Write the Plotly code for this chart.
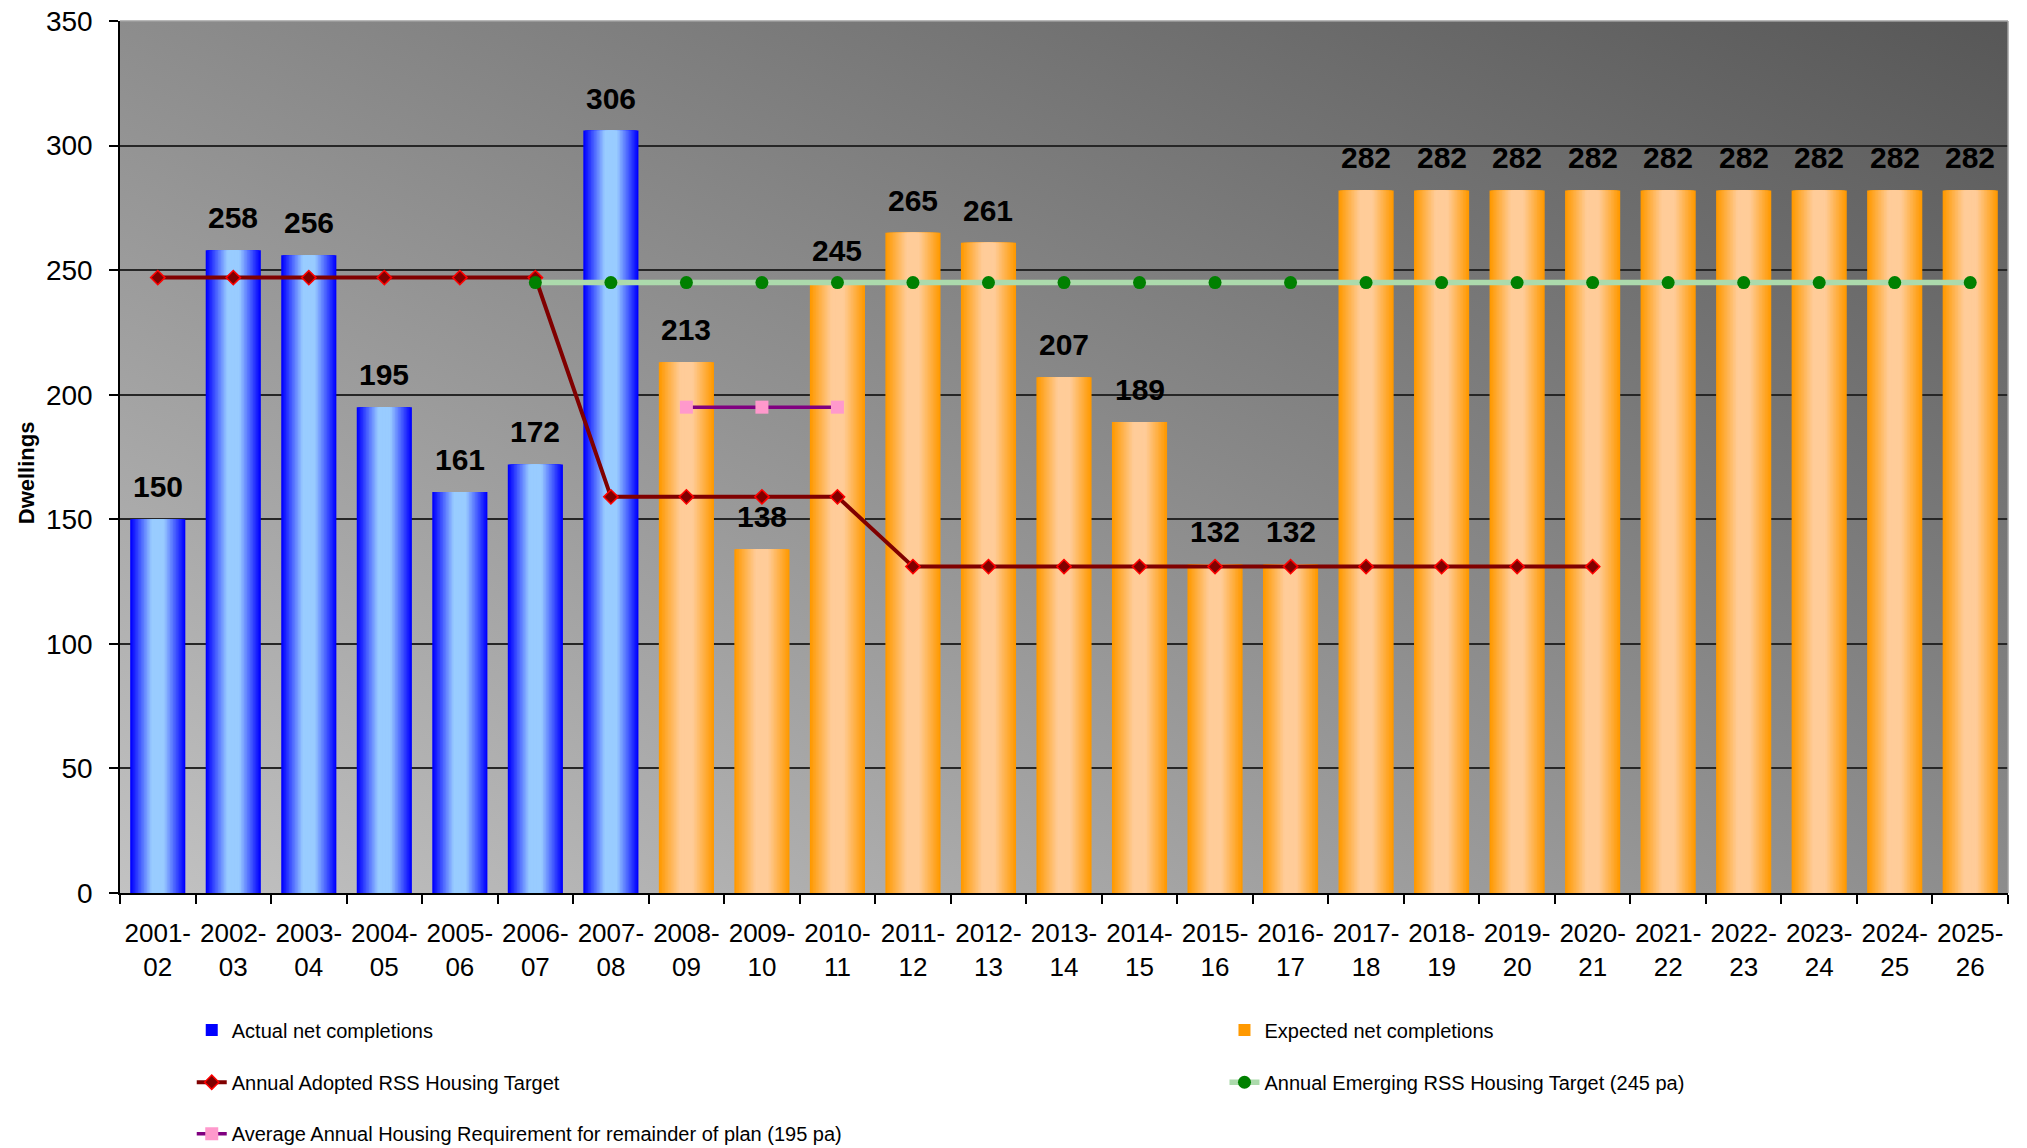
import base64
import plotly.graph_objects as go

# ---------------- data ----------------
categories = ["2001-02", "2002-03", "2003-04", "2004-05", "2005-06", "2006-07", "2007-08",
              "2008-09", "2009-10", "2010-11", "2011-12", "2012-13", "2013-14", "2014-15",
              "2015-16", "2016-17", "2017-18", "2018-19", "2019-20", "2020-21", "2021-22",
              "2022-23", "2023-24", "2024-25", "2025-26"]
tick_labels = ["2001-<br>02", "2002-<br>03", "2003-<br>04", "2004-<br>05", "2005-<br>06",
               "2006-<br>07", "2007-<br>08", "2008-<br>09", "2009-<br>10", "2010-<br>11",
               "2011-<br>12", "2012-<br>13", "2013-<br>14", "2014-<br>15", "2015-<br>16",
               "2016-<br>17", "2017-<br>18", "2018-<br>19", "2019-<br>20", "2020-<br>21",
               "2021-<br>22", "2022-<br>23", "2023-<br>24", "2024-<br>25", "2025-<br>26"]
actual = [150, 258, 256, 195, 161, 172, 306, None, None, None, None, None, None, None,
          None, None, None, None, None, None, None, None, None, None, None]
expected = [None, None, None, None, None, None, None, 213, 138, 245, 265, 261, 207, 189,
            132, 132, 282, 282, 282, 282, 282, 282, 282, 282, 282]
adopted_target = [247, 247, 247, 247, 247, 247, 159, 159, 159, 159, 131, 131, 131, 131,
                  131, 131, 131, 131, 131, 131, None, None, None, None, None]
emerging_target = [None, None, None, None, None, 245, 245, 245, 245, 245, 245, 245, 245, 245,
                   245, 245, 245, 245, 245, 245, 245, 245, 245, 245, 245]
remainder_req = [None, None, None, None, None, None, None, 195, 195, 195, None, None, None,
                 None, None, None, None, None, None, None, None, None, None, None, None]

FONT = "Liberation Sans, Arial, sans-serif"

fig = go.Figure()

# ---------------- gradient bars (nested overlay layers) ----------------
BAR_W = 0.73
N_LAYERS = 18


def mix(c1, c2, f):
    return "rgb(%d,%d,%d)" % tuple(round(a + (b - a) * f) for a, b in zip(c1, c2))


def add_gradient_bars(values, edge, light, name, legend):
    for k in range(N_LAYERS):
        frac = 1 - k / N_LAYERS
        f = max(0.0, min(1.0, (frac - 0.25) / 0.75))
        fig.add_trace(go.Bar(
            x=categories, y=values, width=BAR_W * frac,
            marker=dict(color=mix(light, edge, f), line=dict(width=0)),
            name=name, showlegend=(k == 0), legend=legend,
            hoverinfo="skip" if k else None,
        ))


add_gradient_bars(actual, (0, 0, 255), (153, 204, 255), "Actual net completions", "legend")
add_gradient_bars(expected, (255, 153, 0), (255, 204, 153), "Expected net completions", "legend2")

# ---------------- lines ----------------
fig.add_trace(go.Scatter(
    x=categories, y=adopted_target, mode="lines+markers",
    name="Annual Adopted RSS Housing Target", legend="legend3",
    line=dict(color="#800000", width=4),
    marker=dict(symbol="diamond", size=11, color="#800000", line=dict(color="#FF0000", width=1.5)),
))
fig.add_trace(go.Scatter(
    x=categories, y=emerging_target, mode="lines+markers",
    name="Annual Emerging RSS Housing Target (245 pa)", legend="legend4",
    line=dict(color="rgb(172,218,172)", width=5.5),
    marker=dict(symbol="circle", size=13, color="#008000", line=dict(width=0)),
))
fig.add_trace(go.Scatter(
    x=categories, y=remainder_req, mode="lines+markers",
    name="Average Annual Housing Requirement for remainder of plan (195 pa)", legend="legend5",
    line=dict(color="#800080", width=3.5),
    marker=dict(symbol="square", size=13, color="#FF99CC", line=dict(width=0)),
))

# ---------------- value labels ----------------
annotations = []
for cat, a, e in zip(categories, actual, expected):
    v = a if a is not None else e
    annotations.append(dict(
        x=cat, y=v, xref="x", yref="y", text="<b>%d</b>" % v, showarrow=False,
        yanchor="bottom", yshift=14, font=dict(family=FONT, size=30, color="black"),
    ))

# y-axis title (placed slightly below the axis centre, as in the original)
annotations.append(dict(
    text="<b>Dwellings</b>", textangle=-90, showarrow=False,
    xref="paper", yref="paper", x=-0.0495, y=0.482, xanchor="center", yanchor="middle",
    font=dict(family=FONT, size=22, color="black"),
))

# ---------------- background gradient ----------------
svg = ('<svg xmlns="http://www.w3.org/2000/svg" width="100" height="100" viewBox="0 0 100 100" '
       'preserveAspectRatio="none"><defs><linearGradient id="g" x1="0" y1="1" x2="1" y2="0">'
       '<stop offset="0" stop-color="#C2C2C2"/><stop offset="1" stop-color="#575757"/>'
       '</linearGradient></defs><rect width="100" height="100" fill="url(#g)"/></svg>')
bg_src = "data:image/svg+xml;base64," + base64.b64encode(svg.encode()).decode()

legend_common = dict(font=dict(family=FONT, size=20, color="black"), bgcolor="rgba(0,0,0,0)",
                     xanchor="left", yanchor="middle", orientation="h")
col1, col2 = 0.038, 0.585
row1, row2, row3 = -0.157, -0.217, -0.276

fig.update_layout(
    width=2019, height=1140,
    margin=dict(l=112, r=19, t=13, b=255, autoexpand=False),
    paper_bgcolor="white", plot_bgcolor="rgba(0,0,0,0)",
    barmode="overlay",
    font=dict(family=FONT, color="black"),
    images=[dict(source=bg_src, xref="paper", yref="paper", x=0, y=1, sizex=1, sizey=1,
                 xanchor="left", yanchor="top", sizing="stretch", layer="below")],
    annotations=annotations,
    shapes=[
        dict(type="line", xref="paper", yref="paper", x0=0, x1=1, y0=1, y1=1,
             line=dict(color="#A0A0A0", width=1.5), layer="above"),
        dict(type="line", xref="paper", yref="paper", x0=1, x1=1, y0=0, y1=1,
             line=dict(color="#A0A0A0", width=1.5), layer="above"),
    ],
    legend=dict(x=col1, y=row1, **legend_common),
    legend2=dict(x=col2, y=row1, **legend_common),
    legend3=dict(x=col1, y=row2, **legend_common),
    legend4=dict(x=col2, y=row2, **legend_common),
    legend5=dict(x=col1, y=row3, **legend_common),
    xaxis=dict(
        type="category", categoryorder="array", categoryarray=categories,
        tickvals=categories, ticktext=tick_labels, range=[-0.5, 24.5],
        tickfont=dict(family=FONT, size=26, color="black"), tickangle=0,
        ticks="outside", tickson="boundaries", ticklen=9, tickcolor="black", tickwidth=1.5,
        showline=True, linecolor="black", linewidth=1.5, showgrid=False,
        ticklabelstandoff=16, ticklabeloverflow="allow",
    ),
    yaxis=dict(
        range=[0, 350], dtick=50, tick0=0,
        tickfont=dict(family=FONT, size=28, color="black"),
        ticks="outside", ticklen=9, tickcolor="black", tickwidth=1.5,
        showline=True, linecolor="black", linewidth=1.5,
        showgrid=True, gridcolor="#262626", gridwidth=1.5, zeroline=False,
        ticklabelstandoff=11, ticklabeloverflow="allow",
    ),
)

fig.write_html("out.html")
